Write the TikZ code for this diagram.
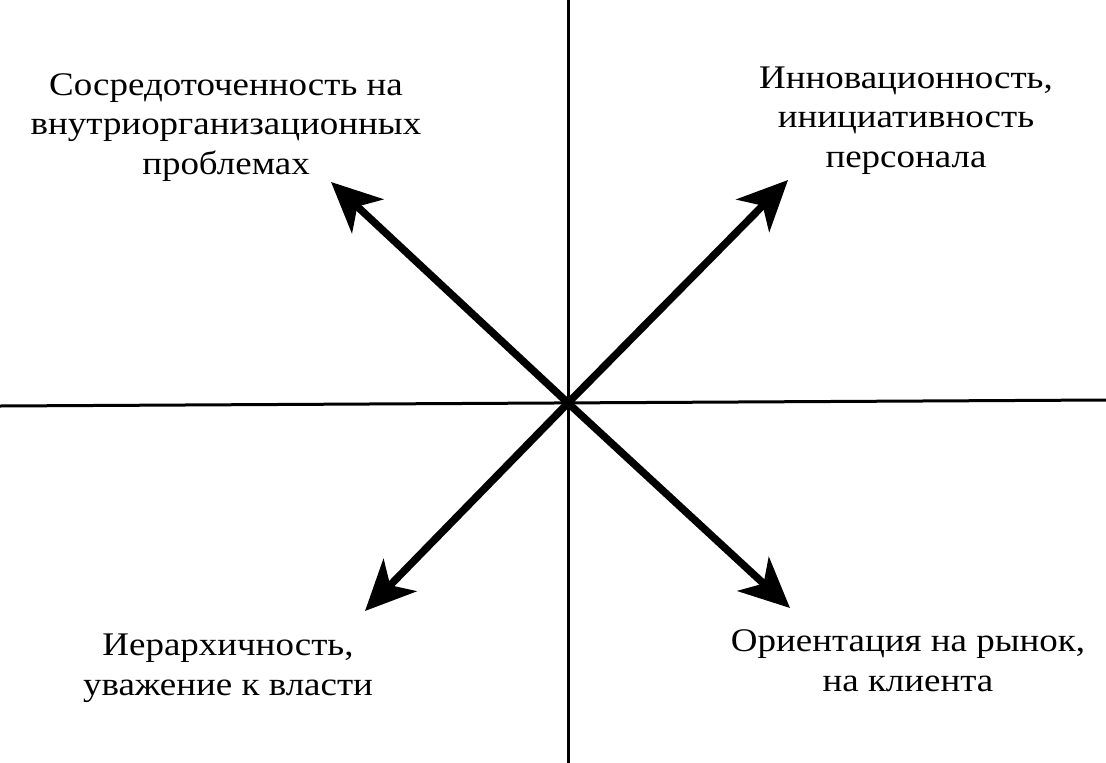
\documentclass[tikz,border=0pt]{standalone}
\usepackage{fontspec}
\setmainfont[FakeStretch=1.12]{Liberation Serif}
\usetikzlibrary{arrows.meta}
\tikzset{
  axis/.style={line width=3pt, black},
  arr/.style={line width=7.5pt, black, -{Stealth[length=50pt, width=46pt, inset=14pt]}},
  lbl/.style={align=center, inner sep=0pt, anchor=base, font=\fontsize{33}{39.5}\selectfont}
}
\begin{document}
\begin{tikzpicture}[x=1pt, y=-1pt]
\useasboundingbox[fill=white] (0,0) rectangle (1106,763);
\coordinate (top) at (568,0);
\coordinate (bot) at (568,763);
\coordinate (lft) at (0,406);
\coordinate (rgt) at (1106,400);
\coordinate (c) at (568,403);
\coordinate (ul) at (331,182);
\coordinate (ur) at (788,180);
\coordinate (ll) at (365,611);
\coordinate (lr) at (790,608);
\draw[axis] (top) -- (bot);
\draw[axis] (lft) -- (rgt);
\draw[arr] (c) -- (ul);
\draw[arr] (c) -- (ur);
\draw[arr] (c) -- (ll);
\draw[arr] (c) -- (lr);
\node[lbl] (tl) at (226,174) {Сосредоточенность на\\внутриорганизационных\\проблемах};
\node[lbl] (tr) at (906,167) {Инновационность,\\инициативность\\персонала};
\node[lbl] (bl) at (228,695) {Иерархичность,\\уважение к власти};
\node[lbl] (br) at (908,691) {Ориентация на рынок,\\на клиента};
\end{tikzpicture}
\end{document}
